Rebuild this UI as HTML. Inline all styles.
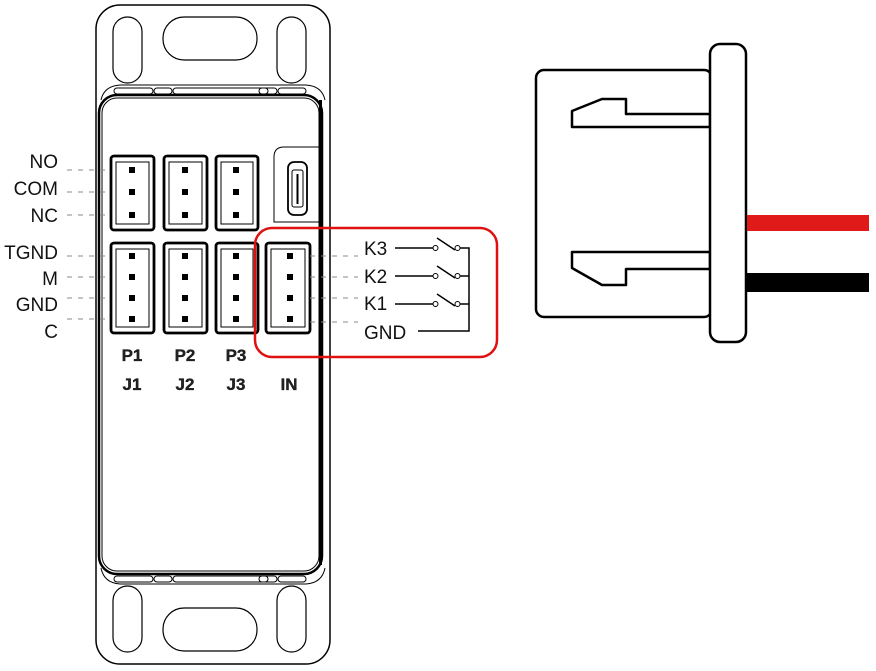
<!DOCTYPE html>
<html><head><style>html,body{margin:0;padding:0;background:#fff;width:876px;height:671px;overflow:hidden}</style></head>
<body>
<svg width="876" height="671" viewBox="0 0 876 671" xmlns="http://www.w3.org/2000/svg" font-family="Liberation Sans, sans-serif">
<g fill="none" stroke="#000">
<!-- outer body -->
<rect x="96" y="5" width="234" height="659" rx="24" stroke-width="1.5"/>
<!-- top holes -->
<rect x="113" y="17" width="29" height="66" rx="14.5" stroke-width="1.2"/>
<rect x="163" y="17" width="94" height="43" rx="21" stroke-width="1.2"/>
<rect x="277" y="17" width="29" height="66" rx="14.5" stroke-width="1.2"/>
<!-- top band -->
<path d="M101 100 Q104 86 120 85 L306 85 Q322 86 325 100" stroke-width="1"/>
<rect x="114" y="88" width="39" height="6" rx="3" stroke-width="1"/>
<rect x="154" y="88" width="18" height="6" rx="3" stroke-width="1"/>
<rect x="173" y="88" width="95" height="6" rx="3" stroke-width="1"/>
<rect x="259" y="88" width="18" height="6" rx="3" stroke-width="1"/>
<rect x="278" y="88" width="28" height="6" rx="3" stroke-width="1"/>
<!-- inner panel -->
<rect x="99" y="95" width="223" height="479" rx="18" stroke-width="2.5"/>
<rect x="102" y="98" width="217" height="473" rx="15" stroke-width="1"/>
<line x1="320.5" y1="100" x2="320.5" y2="565" stroke-width="3"/>
<!-- bottom band -->
<path d="M101 568 Q104 583 120 584 L306 584 Q322 583 325 568" stroke-width="1"/>
<rect x="114" y="576" width="39" height="6" rx="3" stroke-width="1"/>
<rect x="154" y="576" width="18" height="6" rx="3" stroke-width="1"/>
<rect x="173" y="576" width="95" height="6" rx="3" stroke-width="1"/>
<rect x="259" y="576" width="18" height="6" rx="3" stroke-width="1"/>
<rect x="278" y="576" width="28" height="6" rx="3" stroke-width="1"/>
<!-- bottom holes -->
<rect x="113" y="586" width="29" height="66" rx="14.5" stroke-width="1.2"/>
<rect x="163" y="608" width="94" height="43" rx="21" stroke-width="1.2"/>
<rect x="277" y="586" width="29" height="66" rx="14.5" stroke-width="1.2"/>
<!-- USB housing -->
<path d="M322 147 L284 147 Q274 147 274 157 L274 222 L320 222" stroke-width="1"/>
<rect x="288" y="162" width="19" height="53" rx="6" stroke-width="1.8"/>
<rect x="292" y="170" width="11" height="37" rx="2" stroke-width="1"/>
<line x1="297.5" y1="174" x2="297.5" y2="204" stroke-width="2"/>
<!-- connectors top row -->
<g stroke-width="2.8">
<rect x="111" y="156" width="43" height="74" rx="3"/>
<rect x="164" y="156" width="43" height="74" rx="3"/>
<rect x="216" y="156" width="42" height="74" rx="3"/>
<rect x="111" y="243" width="43" height="90" rx="3"/>
<rect x="164" y="243" width="43" height="90" rx="3"/>
<rect x="216" y="243" width="42" height="90" rx="3"/>
<rect x="266" y="243" width="44" height="90" rx="3"/>
</g>
<g stroke-width="1">
<rect x="116" y="162" width="33" height="62"/>
<rect x="169" y="162" width="33" height="62"/>
<rect x="221" y="162" width="32" height="62"/>
<rect x="116" y="249" width="33" height="78"/>
<rect x="169" y="249" width="33" height="78"/>
<rect x="221" y="249" width="32" height="78"/>
<rect x="271" y="249" width="34" height="78"/>
</g>
<!-- red box -->
<rect x="255" y="228" width="242" height="129" rx="17" stroke="#e01010" stroke-width="2.5"/>
<!-- left dashes -->
<g stroke="#888" stroke-width="1" stroke-dasharray="5,6">
<line x1="67" y1="170" x2="110" y2="170"/><line x1="67" y1="192" x2="110" y2="192"/><line x1="67" y1="215" x2="110" y2="215"/>
<line x1="67" y1="256" x2="110" y2="256"/><line x1="67" y1="277" x2="110" y2="277"/><line x1="67" y1="298" x2="110" y2="298"/><line x1="67" y1="319" x2="110" y2="319"/>
<line x1="310" y1="256" x2="358" y2="256"/><line x1="310" y1="277" x2="358" y2="277"/><line x1="310" y1="298" x2="358" y2="298"/><line x1="310" y1="322" x2="358" y2="322"/>
</g>
<!-- switches -->
<g stroke-width="1.5">
<line x1="395" y1="248" x2="433" y2="248"/><line x1="437" y1="238" x2="455" y2="250"/>
<line x1="395" y1="276" x2="433" y2="276"/><line x1="437" y1="266" x2="455" y2="278"/>
<line x1="395" y1="304" x2="433" y2="304"/><line x1="437" y1="294" x2="455" y2="306"/>
<path d="M460 248 L469 248 L469 331 L418 331"/>
<line x1="460" y1="276" x2="469" y2="276"/><line x1="460" y1="304" x2="469" y2="304"/>
<circle cx="435.5" cy="248" r="2.5" fill="#fff" stroke-width="1"/><circle cx="457.5" cy="248" r="2.5" fill="#fff" stroke-width="1"/>
<circle cx="435.5" cy="276" r="2.5" fill="#fff" stroke-width="1"/><circle cx="457.5" cy="276" r="2.5" fill="#fff" stroke-width="1"/>
<circle cx="435.5" cy="304" r="2.5" fill="#fff" stroke-width="1"/><circle cx="457.5" cy="304" r="2.5" fill="#fff" stroke-width="1"/>
</g>
<!-- right connector -->
<g stroke-width="2.5" stroke-linejoin="round">
<rect x="536" y="70" width="176" height="247" rx="8"/>
<path d="M572 111 L602 99 L626 99 L626 114 L710 114 L710 127 L572 127 Z" fill="#fff"/>
<path d="M572 252 L710 252 L710 269 L626 269 L626 285 L602 285 L572 268 Z" fill="#fff"/>
<rect x="710" y="44" width="36" height="298" rx="10" fill="#fff"/>
</g>
</g>
<rect x="747" y="215" width="122" height="16" fill="#df1a18"/>
<rect x="747" y="273" width="122" height="19" fill="#000"/>
<!-- pins -->
<g fill="#000">
<rect x="129" y="167" width="6" height="6"/><rect x="129" y="189" width="6" height="6"/><rect x="129" y="212" width="6" height="6"/>
<rect x="182" y="167" width="6" height="6"/><rect x="182" y="189" width="6" height="6"/><rect x="182" y="212" width="6" height="6"/>
<rect x="233" y="167" width="6" height="6"/><rect x="233" y="189" width="6" height="6"/><rect x="233" y="212" width="6" height="6"/>
<rect x="129" y="253" width="6" height="6"/><rect x="129" y="274" width="6" height="6"/><rect x="129" y="295" width="6" height="6"/><rect x="129" y="316" width="6" height="6"/>
<rect x="182" y="253" width="6" height="6"/><rect x="182" y="274" width="6" height="6"/><rect x="182" y="295" width="6" height="6"/><rect x="182" y="316" width="6" height="6"/>
<rect x="233" y="253" width="6" height="6"/><rect x="233" y="274" width="6" height="6"/><rect x="233" y="295" width="6" height="6"/><rect x="233" y="316" width="6" height="6"/>
<rect x="287" y="253" width="6" height="6"/><rect x="287" y="274" width="6" height="6"/><rect x="287" y="295" width="6" height="6"/><rect x="287" y="316" width="6" height="6"/>
</g>
<!-- labels -->
<g font-size="19" fill="#111" text-anchor="end">
<text x="58" y="168">NO</text><text x="58" y="195">COM</text><text x="58" y="222">NC</text>
<text x="58" y="259">TGND</text><text x="58" y="285">M</text><text x="58" y="311">GND</text><text x="58" y="338">C</text>
</g>
<g font-size="19" fill="#111">
<text x="364" y="255">K3</text><text x="364" y="283">K2</text><text x="364" y="310">K1</text><text x="364" y="339">GND</text>
</g>
<g font-size="17" font-weight="bold" fill="#222" text-anchor="middle" stroke="#000" stroke-width="0.3">
<text x="132" y="361">P1</text><text x="185" y="361">P2</text><text x="236" y="361">P3</text>
<text x="132" y="390">J1</text><text x="185" y="390">J2</text><text x="236" y="390">J3</text><text x="289" y="390">IN</text>
</g>
</svg>
</body></html>
